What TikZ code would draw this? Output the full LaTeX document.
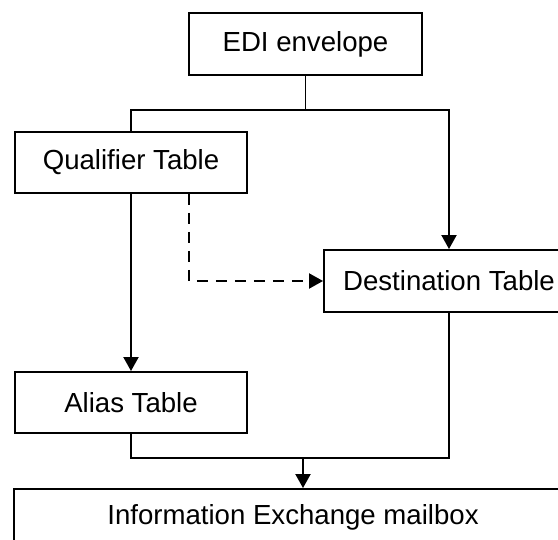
\documentclass[tikz,border=0pt]{standalone}
\usepackage{fontspec}
\setmainfont{Liberation Sans}
\usetikzlibrary{arrows.meta}
\begin{document}
\begin{tikzpicture}[x=1pt,y=-1pt,
  box/.style={draw,line width=1.9pt,rectangle,inner sep=0pt,
    font=\fontsize{27.6}{33}\selectfont,text=black},
  conn/.style={line width=1.9pt},
  arr/.style={conn,-{Triangle[length=14pt,width=15pt]}},
  dashconn/.style={arr,dash pattern=on 11pt off 8pt}]
\useasboundingbox (0,0) rectangle (558,540);
\clip (0,0) rectangle (558,540);
\node[box,minimum width=233pt,minimum height=62pt] (edi) at (305.5,44) {EDI envelope};
\node[box,minimum width=232pt,minimum height=61pt] (qual) at (131,162.5) {Qualifier Table};
\node[box,minimum width=250pt,minimum height=62pt] (dest) at (449,281) {Destination Table};
\node[box,minimum width=232pt,minimum height=61pt] (alias) at (131,402.5) {Alias Table};
\node[box,minimum width=558pt,minimum height=56pt] (mail) at (293,517) {Information Exchange mailbox};
\coordinate (j1) at (305.5,110);
\coordinate (j2) at (303,458);
\draw[conn] (edi.south) -- (j1);
\draw[arr] (qual.north) |- (j1) -| (dest.north);
\draw[arr] (qual.south) -- (alias.north);
\draw[dashconn] ([xshift=58pt]qual.south) |- (dest.west);
\draw[conn] (alias.south) |- (j2) -| (dest.south);
\draw[arr] (j2) -- (j2 |- mail.north);
\end{tikzpicture}
\end{document}
